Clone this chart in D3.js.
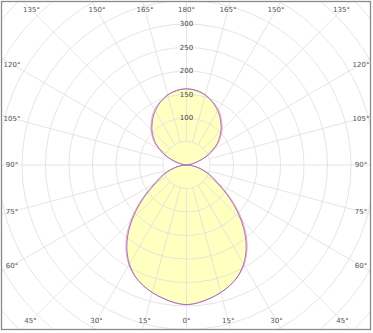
<!DOCTYPE html>
<html lang="en">
  <head>
    <meta charset="utf-8">
    <title>Luminous intensity distribution</title>
    <script src="https://d3js.org/d3.v7.min.js"></script>
    <style>
      body { margin: 0; background: white; }
      text { font-family: "DejaVu Sans", sans-serif; }
    </style>
  </head>
  <body>
    <script type="text/javascript">

      // gamma angles (0 = down, 180 = up), step 5 degrees
      var gammas = [0, 5, 10, 15, 20, 25, 30, 35, 40, 45, 50, 55, 60, 65, 70, 75, 80, 85, 90,
                    95, 100, 105, 110, 115, 120, 125, 130, 135, 140, 145, 150, 155, 160, 165, 170, 175, 180];

      // C0-C180 plane (cd/klm)
      var c0 = [297, 294, 288, 281, 272, 261, 245, 224, 198, 168, 136, 105, 79, 62, 48, 33, 20, 9, 0,
                4, 11, 21, 36, 53, 67, 83, 95, 107, 117, 127, 136, 143, 149, 155, 159, 161, 162];

      // C90-C270 plane (cd/klm)
      var c90 = [297, 294, 288, 281, 272, 260, 243, 221, 194, 163, 131, 100, 74, 58, 44, 30, 18, 8, 0,
                 4, 10, 20, 34, 50, 64, 80, 92, 104, 114, 124, 133, 141, 148, 154, 158, 161, 162];

      var ringValues = [50, 100, 150, 200, 250, 300, 350, 400, 450, 500, 550];
      var ringLabels = [100, 150, 200, 250, 300];
      var spokeAngles = [0, 15, 30, 45, 60, 75, 90, 105, 120, 135, 150, 165, 180];

      var w = 373;
      var h = 333;
      var cx = 186.5;
      var cy = 165;
      var box = {left: 1.5, top: 1.5, right: 370.5, bottom: 329.5};
      var labelBox = {left: 12, top: 10, right: 361, bottom: 321};

      var rScale = d3.scaleLinear()
          .domain([0, 300])
          .range([0, 141]);

      var svg = d3.select("body")
        .append("svg")
          .attr("width", w)
          .attr("height", h);

      svg.append("clipPath")
          .attr("id", "frameclip")
        .append("rect")
          .attr("x", box.left)
          .attr("y", box.top)
          .attr("width", box.right - box.left)
          .attr("height", box.bottom - box.top);

      var plot = svg.append("g")
          .attr("clip-path", "url(#frameclip)")
        .append("g")
          .attr("transform", `translate(${cx}, ${cy})`);

      // right half: gamma 0..180, left half: gamma 175..5 (mirror)
      function curvePoints(values) {
        var pts = [];
        gammas.forEach(function(g, i) {
          pts.push([Math.PI - g * Math.PI / 180, rScale(values[i])]);
        });
        for (var i = gammas.length - 2; i > 0; i--) {
          pts.push([Math.PI + gammas[i] * Math.PI / 180, rScale(values[i])]);
        }
        return pts;
      }

      var radialLine = d3.lineRadial()
          .angle(d => d[0])
          .radius(d => d[1])
          .curve(d3.curveCatmullRomClosed.alpha(0.5));

      plot.append("path")
          .attr("d", radialLine(curvePoints(c90)))
          .attr("fill", "#ffffc0")
          .attr("stroke", "none");

      // grid
      plot.selectAll(".ring")
        .data(ringValues)
        .enter().append("circle")
          .attr("class", "ring")
          .attr("r", d => rScale(d))
          .attr("fill", "none")
          .attr("stroke", "#dedede")
          .attr("stroke-width", 0.8);

      var spokes = [];
      spokeAngles.forEach(function(g) {
        spokes.push(Math.PI - g * Math.PI / 180);
        if (g > 0 && g < 180) spokes.push(Math.PI + g * Math.PI / 180);
      });

      plot.selectAll(".spoke")
        .data(spokes)
        .enter().append("line")
          .attr("class", "spoke")
          .attr("x1", d => rScale(50) * Math.sin(d))
          .attr("y1", d => -rScale(50) * Math.cos(d))
          .attr("x2", d => rScale(600) * Math.sin(d))
          .attr("y2", d => -rScale(600) * Math.cos(d))
          .attr("stroke", "#dedede")
          .attr("stroke-width", 0.8);

      plot.append("path")
          .attr("d", radialLine(curvePoints(c0)))
          .attr("fill", "none")
          .attr("stroke", "#f49a9a")
          .attr("stroke-width", 0.9);

      plot.append("path")
          .attr("d", radialLine(curvePoints(c90)))
          .attr("fill", "none")
          .attr("stroke", "#9066d8")
          .attr("stroke-width", 0.9);

      // intensity labels on vertical axis
      plot.selectAll(".rlabel")
        .data(ringLabels)
        .enter().append("text")
          .attr("class", "rlabel")
          .attr("x", 0)
          .attr("y", d => -rScale(d))
          .attr("dy", "0.35em")
          .attr("text-anchor", "middle")
          .attr("font-size", "7px")
          .attr("fill", "#444")
          .text(d => d);

      // angle labels along the frame
      var angleLabels = [];
      spokeAngles.forEach(function(g) {
        var rad = g * Math.PI / 180;
        angleLabels.push({g: g, dx: Math.sin(rad), dy: Math.cos(rad)});
        if (g > 0 && g < 180) angleLabels.push({g: g, dx: -Math.sin(rad), dy: Math.cos(rad)});
      });

      function edgePoint(d) {
        var t = Infinity;
        if (d.dx > 1e-9) t = Math.min(t, (labelBox.right - cx) / d.dx);
        if (d.dx < -1e-9) t = Math.min(t, (labelBox.left - cx) / d.dx);
        if (d.dy > 1e-9) t = Math.min(t, (labelBox.bottom - cy) / d.dy);
        if (d.dy < -1e-9) t = Math.min(t, (labelBox.top - cy) / d.dy);
        return [cx + t * d.dx, cy + t * d.dy];
      }

      svg.selectAll(".alabel")
        .data(angleLabels)
        .enter().append("text")
          .attr("class", "alabel")
          .attr("x", d => edgePoint(d)[0])
          .attr("y", d => edgePoint(d)[1])
          .attr("dy", "0.35em")
          .attr("text-anchor", "middle")
          .attr("font-size", "7px")
          .attr("fill", "#555")
          .text(d => d.g + "°");

      svg.append("rect")
          .attr("x", box.left)
          .attr("y", box.top)
          .attr("width", box.right - box.left)
          .attr("height", box.bottom - box.top)
          .attr("fill", "none")
          .attr("stroke", "#8a8a8a")
          .attr("stroke-width", 1.3);

    </script>
  </body>
</html>
